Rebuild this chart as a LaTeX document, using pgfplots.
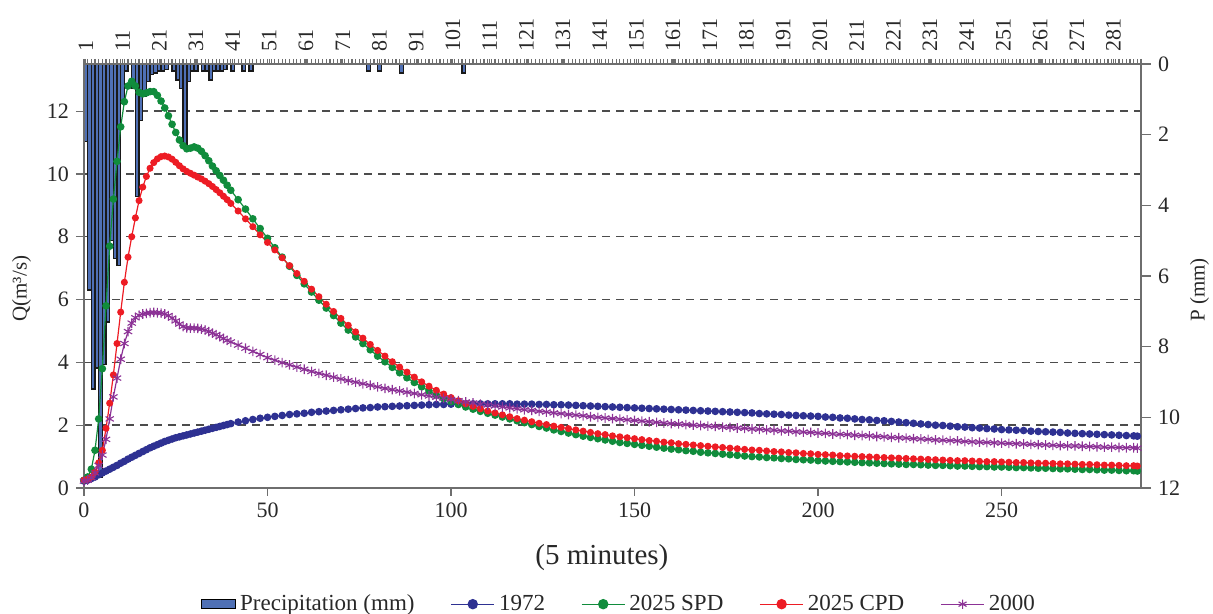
\documentclass[border=0pt]{standalone}
\usepackage{fontspec}
\setmainfont{Liberation Serif}
\usepackage{pgfplots}
\usepackage{pgfplotstable}
\pgfplotsset{compat=1.18}
\definecolor{c72}{RGB}{46,49,146}
\definecolor{cspd}{RGB}{16,140,60}
\definecolor{ccpd}{RGB}{237,28,36}
\definecolor{c00}{RGB}{140,50,150}
\definecolor{barblue}{RGB}{79,112,181}
\definecolor{axgray}{RGB}{110,110,110}
\definecolor{txt}{RGB}{40,40,40}

\pgfplotstableread{
x P
0.5 2.2
1.5 6.4
2.5 9.2
3.5 8.6
4.5 11.7
5.5 8.5
6.5 7.3
7.5 5.0
8.5 5.5
9.5 5.7
10.5 1.1
11.5 0.2
13.5 0.7
14.5 3.75
15.5 1.6
16.5 0.9
17.5 0.5
18.5 0.3
19.5 0.25
20.5 0.2
21.5 0.2
22.5 0.15
24.5 0.2
25.5 0.45
26.5 0.7
27.5 2.35
28.5 0.5
29.5 0.2
30.5 0.2
32.5 0.2
33.5 0.2
34.5 0.45
35.5 0.2
36.5 0.2
37.5 0.2
38.5 0.15
40.5 0.2
43.5 0.2
45.5 0.2
77.5 0.2
80.5 0.2
86.5 0.25
103.5 0.25
}\precip

\pgfplotstableread{
x a b c d
0 0.22 0.25 0.25 0.22
1 0.25 0.35 0.28 0.25
2 0.30 0.60 0.35 0.33
3 0.35 1.20 0.50 0.48
4 0.42 2.20 0.80 0.72
5 0.48 3.80 1.20 1.05
6 0.54 5.80 1.90 1.55
7 0.60 7.70 2.70 2.20
8 0.66 9.20 3.60 2.90
9 0.72 10.40 4.60 3.50
10 0.79 11.50 5.60 4.10
11 0.85 12.30 6.55 4.60
12 0.92 12.80 7.35 4.98
13 0.98 12.95 8.00 5.25
14 1.04 12.80 8.60 5.42
15 1.10 12.60 9.15 5.50
16 1.16 12.55 9.58 5.54
17 1.22 12.58 9.92 5.56
18 1.28 12.62 10.18 5.58
19 1.33 12.62 10.36 5.59
20 1.38 12.50 10.48 5.58
21 1.43 12.32 10.55 5.57
22 1.48 12.10 10.57 5.54
23 1.52 11.85 10.54 5.49
24 1.56 11.58 10.47 5.41
25 1.60 11.32 10.37 5.32
26 1.63 11.08 10.26 5.22
27 1.66 10.90 10.16 5.14
28 1.69 10.80 10.08 5.10
29 1.72 10.82 10.02 5.09
30 1.75 10.86 9.96 5.09
31 1.78 10.82 9.90 5.08
32 1.81 10.72 9.84 5.06
33 1.84 10.58 9.77 5.03
34 1.87 10.42 9.69 4.98
35 1.90 10.25 9.60 4.93
36 1.93 10.10 9.50 4.88
37 1.96 9.95 9.40 4.82
38 1.99 9.80 9.29 4.76
39 2.02 9.64 9.18 4.70
40 2.05 9.48 9.06 4.65
42 2.10 9.18 8.82 4.55
44 2.14 8.88 8.57 4.45
46 2.18 8.57 8.32 4.35
48 2.22 8.26 8.06 4.25
50 2.25 7.95 7.82 4.15
52 2.28 7.65 7.58 4.07
54 2.31 7.35 7.33 3.99
56 2.34 7.06 7.08 3.92
58 2.36 6.77 6.83 3.85
60 2.38 6.50 6.58 3.78
62 2.41 6.24 6.33 3.71
64 2.43 5.98 6.09 3.65
66 2.45 5.73 5.85 3.59
68 2.47 5.49 5.62 3.53
70 2.49 5.25 5.40 3.47
72 2.51 5.03 5.18 3.42
74 2.53 4.81 4.97 3.37
76 2.55 4.60 4.77 3.32
78 2.56 4.40 4.57 3.27
80 2.58 4.20 4.38 3.22
82 2.59 4.02 4.20 3.17
84 2.60 3.84 4.02 3.13
86 2.61 3.67 3.85 3.09
88 2.62 3.51 3.69 3.05
90 2.63 3.36 3.53 3.01
92 2.64 3.22 3.38 2.97
94 2.65 3.09 3.24 2.93
96 2.66 2.96 3.11 2.89
98 2.66 2.85 2.99 2.86
100 2.67 2.75 2.88 2.82
102 2.67 2.66 2.78 2.78
104 2.68 2.58 2.68 2.74
106 2.68 2.51 2.60 2.71
108 2.68 2.44 2.52 2.67
110 2.68 2.38 2.45 2.64
112 2.68 2.32 2.39 2.61
114 2.68 2.26 2.33 2.58
116 2.68 2.20 2.27 2.55
118 2.67 2.14 2.21 2.52
120 2.67 2.08 2.16 2.49
122 2.67 2.02 2.11 2.47
124 2.66 1.96 2.06 2.44
126 2.66 1.91 2.02 2.42
128 2.65 1.85 1.97 2.39
130 2.65 1.80 1.93 2.37
132 2.64 1.75 1.89 2.34
134 2.63 1.70 1.85 2.32
136 2.62 1.65 1.81 2.30
138 2.61 1.61 1.77 2.27
140 2.60 1.57 1.73 2.25
142 2.59 1.53 1.70 2.23
144 2.58 1.49 1.66 2.21
146 2.57 1.45 1.63 2.19
148 2.56 1.42 1.60 2.17
150 2.55 1.39 1.57 2.15
152 2.54 1.36 1.54 2.13
154 2.53 1.33 1.51 2.11
156 2.52 1.30 1.49 2.09
158 2.51 1.27 1.46 2.07
160 2.50 1.24 1.44 2.05
162 2.49 1.22 1.41 2.04
164 2.48 1.19 1.39 2.02
166 2.47 1.17 1.37 2.00
168 2.46 1.14 1.35 1.99
170 2.45 1.12 1.33 1.97
172 2.44 1.10 1.31 1.96
174 2.43 1.08 1.29 1.94
176 2.42 1.06 1.27 1.93
178 2.41 1.04 1.25 1.91
180 2.40 1.02 1.23 1.90
182 2.39 1.00 1.21 1.88
184 2.37 0.99 1.20 1.87
186 2.36 0.97 1.18 1.85
188 2.35 0.96 1.16 1.84
190 2.34 0.94 1.15 1.82
192 2.32 0.93 1.13 1.81
194 2.31 0.91 1.12 1.79
196 2.30 0.90 1.10 1.78
198 2.29 0.89 1.09 1.77
200 2.28 0.87 1.07 1.75
202 2.26 0.86 1.06 1.74
204 2.25 0.85 1.05 1.72
206 2.23 0.84 1.03 1.71
208 2.22 0.83 1.02 1.70
210 2.20 0.82 1.01 1.68
212 2.18 0.81 1.00 1.67
214 2.17 0.80 0.99 1.66
216 2.15 0.79 0.98 1.64
218 2.14 0.78 0.97 1.63
220 2.12 0.77 0.96 1.61
222 2.10 0.76 0.95 1.60
224 2.08 0.75 0.94 1.59
226 2.06 0.75 0.93 1.57
228 2.04 0.74 0.92 1.56
230 2.02 0.73 0.91 1.55
232 2.00 0.72 0.90 1.53
234 1.99 0.72 0.89 1.52
236 1.97 0.71 0.88 1.51
238 1.95 0.70 0.87 1.50
240 1.94 0.70 0.87 1.48
242 1.92 0.69 0.86 1.47
244 1.91 0.68 0.85 1.46
246 1.89 0.68 0.84 1.45
248 1.88 0.67 0.84 1.44
250 1.86 0.67 0.83 1.43
252 1.85 0.66 0.82 1.42
254 1.84 0.65 0.81 1.41
256 1.83 0.65 0.81 1.40
258 1.81 0.64 0.80 1.39
260 1.80 0.63 0.79 1.38
262 1.79 0.63 0.79 1.37
264 1.78 0.62 0.78 1.36
266 1.77 0.61 0.77 1.35
268 1.75 0.61 0.77 1.34
270 1.74 0.60 0.76 1.34
272 1.73 0.59 0.75 1.33
274 1.72 0.59 0.75 1.32
276 1.71 0.58 0.74 1.31
278 1.70 0.57 0.73 1.30
280 1.69 0.57 0.73 1.30
282 1.68 0.56 0.72 1.29
284 1.67 0.55 0.71 1.28
286 1.66 0.55 0.71 1.28
287 1.65 0.54 0.70 1.27
}\flow

\pgfplotsset{
  base/.style={
    scale only axis, width=528.5pt, height=212pt,
    xmin=0, xmax=288, at={(0,0)}, anchor=south west,
    axis line style={axgray, line width=0.8pt},
    tick style={axgray, line width=0.6pt},
    tick label style={font=\fontsize{11}{13}\selectfont, text=txt},
    label style={font=\fontsize{10.5}{12}\selectfont, text=txt},
    /pgf/number format/assume math mode=true,
  }
}

\begin{document}
\begin{tikzpicture}
% grid, left and bottom axes
\begin{axis}[base,
  ymin=0, ymax=13.5,
  ytick={0,2,...,12}, xtick={0,50,...,250},
  xtick pos=left, ytick pos=left, tick align=outside,
  major tick length=4pt,
  ymajorgrids, grid style={black!70, line width=0.7pt, dash pattern=on 4pt off 3pt},
  xlabel={(5 minutes)}, ylabel={Q(m³/s)},
  xlabel style={at={(axis description cs:0.49,-0.163)}, anchor=center, font=\fontsize{14.5}{16}\selectfont},
  ylabel style={at={(axis description cs:-0.059,0.47)}, anchor=center},
]
\end{axis}
% precipitation bars with top axis
\begin{axis}[base,
  ymin=0, ymax=12, y dir=reverse, ytick=\empty,
  xtick={0.5,10.5,...,280.5},
  xticklabels={1,11,21,31,41,51,61,71,81,91,101,111,121,131,141,151,161,171,181,191,201,211,221,231,241,251,261,271,281},
  minor xtick={0,1,...,288},
  xtick pos=right, xticklabel pos=right, tick align=inside,
  major tick length=2.5pt, minor tick length=2.5pt,
  xticklabel style={rotate=90, anchor=west},
  ybar, bar width=1,
]
\addplot[fill=barblue, draw=black!90, line width=0.75pt] table[x=x, y=P] {\precip};
\end{axis}
% right axis
\begin{axis}[base,
  ymin=0, ymax=12, y dir=reverse, xtick=\empty,
  ytick={0,2,...,12}, ytick pos=right, yticklabel pos=right,
  tick align=outside, major tick length=5pt,
  ylabel={P (mm)},
  ylabel style={at={(axis description cs:1.0555,0.467)}, anchor=center},
]
\end{axis}
% flow series
\begin{axis}[base, ymin=0, ymax=13.5, hide axis,
  legend style={at={(0.507,-0.274)}, anchor=center, draw=none, fill=none,
    legend columns=-1, font=\fontsize{11.5}{13}\selectfont, text=txt,
    /tikz/every even column/.append style={column sep=16pt}},
  legend cell align=left,
  legend image code/.code={\draw[mark repeat=2, mark phase=2] plot coordinates {(0cm,0cm) (0.38cm,0cm) (0.76cm,0cm)};},
  legend image post style={mark size=2.3pt},
]
\addlegendimage{legend image code/.code={\draw[fill=barblue, draw=black, line width=0.5pt] (0cm,-0.08cm) rectangle (0.6cm,0.09cm);}}
\addlegendentry{Precipitation (mm)}
\addplot[c72, line width=0.6pt, mark=*, mark size=1.6pt, mark options={fill=c72, draw=c72}] table[x=x, y=a] {\flow};
\addlegendentry{1972}
\addplot[cspd, line width=0.6pt, mark=*, mark size=1.6pt, mark options={fill=cspd, draw=cspd}] table[x=x, y=b] {\flow};
\addlegendentry{2025 SPD}
\addplot[ccpd, line width=0.6pt, mark=*, mark size=1.45pt, mark options={fill=ccpd, draw=ccpd}] table[x=x, y=c] {\flow};
\addlegendentry{2025 CPD}
\addplot[c00, line width=0.6pt, mark=asterisk, mark size=2.4pt, mark options={line width=0.55pt}] table[x=x, y=d] {\flow};
\addlegendentry{2000}
\end{axis}
\pgfresetboundingbox
\useasboundingbox (-42pt,-63pt) rectangle (564.5pt,244pt);
\end{tikzpicture}
\end{document}
